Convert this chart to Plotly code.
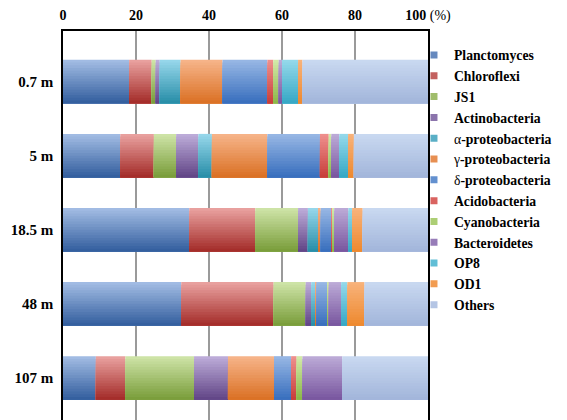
import plotly.graph_objects as go

# Sampling depths (rows) and relative abundances (%) of each bacterial group
depths = ["0.7 m", "5 m", "18.5 m", "48 m", "107 m"]

planctomyces = [18.1, 15.7, 34.6, 32.4, 9.0]
chloroflexi = [6.2, 9.2, 18.1, 25.3, 8.1]
js1 = [1.1, 6.1, 11.7, 8.8, 18.8]
actinobacteria = [1.1, 6.1, 2.7, 1.5, 9.3]
alpha_proteo = [5.7, 3.7, 3.0, 1.1, 0.0]
gamma_proteo = [11.5, 15.2, 0.5, 0.3, 12.6]
delta_proteo = [12.3, 14.4, 3.0, 3.0, 4.7]
acidobacteria = [1.6, 2.4, 0.3, 0.2, 1.5]
cyanobacteria = [1.5, 0.7, 0.4, 0.2, 1.6]
bacteroidetes = [0.9, 2.2, 3.9, 3.4, 10.9]
op8 = [4.4, 2.4, 1.0, 1.7, 0.0]
od1 = [1.2, 1.6, 2.9, 4.7, 0.0]
others = [34.4, 20.3, 17.9, 17.4, 23.5]

x_ticks = [0, 20, 40, 60, 80, 100]
x_tick_text = ["<b>0</b>", "<b>20</b>", "<b>40</b>", "<b>60</b>", "<b>80</b>", "<b>100</b> (%)"]

# (legend label, values, gradient top colour, gradient bottom colour)
series = [
    ("<b>Planctomyces</b>", planctomyces, "#A1BBE3", "#35609F"),
    ("<b>Chloroflexi</b>", chloroflexi, "#E8A09E", "#A52E2B"),
    ("<b>JS1</b>", js1, "#CDE3A6", "#7B9E3C"),
    ("<b>Actinobacteria</b>", actinobacteria, "#BCABD8", "#634788"),
    ("α<b>-proteobacteria</b>", alpha_proteo, "#95D6EA", "#2A8FA9"),
    ("γ<b>-proteobacteria</b>", gamma_proteo, "#F6B388", "#DB7226"),
    ("δ<b>-proteobacteria</b>", delta_proteo, "#96B6E4", "#3A70BE"),
    ("<b>Acidobacteria</b>", acidobacteria, "#EE8E8C", "#C8403C"),
    ("<b>Cyanobacteria</b>", cyanobacteria, "#D2E9A8", "#8DB84A"),
    ("<b>Bacteroidetes</b>", bacteroidetes, "#BBA9D6", "#7A58A0"),
    ("<b>OP8</b>", op8, "#93D8EA", "#38A9C6"),
    ("<b>OD1</b>", od1, "#F8B27A", "#EE8A30"),
    ("<b>Others</b>", others, "#C8D8F0", "#A3B6DB"),
]


def hex_to_rgb(h):
    h = h.lstrip("#")
    return tuple(int(h[i:i + 2], 16) for i in (0, 2, 4))


def blend(c1, c2, t):
    a, b = hex_to_rgb(c1), hex_to_rgb(c2)
    r, g, bl = (round(a[i] + (b[i] - a[i]) * t) for i in range(3))
    return f"rgb({r},{g},{bl})"


BAR_WIDTH = 0.587
N_STRIPS = 16
strip = BAR_WIDTH / N_STRIPS

fig = go.Figure()

# Stacked segments, shaded light (top) to dark (bottom): each layer starts a
# little lower and runs to the bottom edge, covering the layer before it.
cumulative = [0.0] * len(depths)
for name, values, top, bottom in series:
    bases = list(cumulative)
    for k in range(N_STRIPS):
        t = k / (N_STRIPS - 1)
        fig.add_trace(go.Bar(
            orientation="h",
            y=depths,
            x=values,
            base=bases,
            offset=-BAR_WIDTH / 2 + k * strip,
            width=BAR_WIDTH - k * strip,
            marker=dict(color=blend(top, bottom, t), line=dict(width=0)),
            showlegend=False,
            hoverinfo="skip",
        ))
    cumulative = [c + v for c, v in zip(cumulative, values)]

# Legend entries with small square keys
for name, values, top, bottom in series:
    fig.add_trace(go.Scatter(
        x=[None], y=[None], mode="markers", name=name,
        marker=dict(symbol="square", size=7, color=blend(top, bottom, 0.55)),
    ))

serif = "Liberation Serif, Times New Roman, serif"

fig.update_layout(
    width=567,
    height=420,
    margin=dict(l=63, r=139, t=31, b=0, autoexpand=False),
    paper_bgcolor="white",
    plot_bgcolor="white",
    barmode="overlay",
    font=dict(family=serif, color="black"),
    legend=dict(
        x=0.9616, xanchor="left",
        y=0.978, yanchor="top",
        font=dict(family=serif, size=13.7, color="black"),
        bgcolor="rgba(0,0,0,0)",
        borderwidth=0,
        itemsizing="trace",
        traceorder="normal",
    ),
    xaxis=dict(
        side="top",
        range=[0, 100],
        tickvals=x_ticks,
        ticktext=x_tick_text,
        tickfont=dict(family=serif, size=14, color="black"),
        ticks="",
        ticklabelstandoff=4,
        showgrid=True,
        gridcolor="#9A9A9A",
        gridwidth=1.5,
        zeroline=False,
        showline=True,
        linecolor="black",
        linewidth=1.5,
        mirror=False,
        fixedrange=True,
    ),
    yaxis=dict(
        type="category",
        categoryorder="array",
        categoryarray=depths,
        range=[4.568, -0.682],
        tickfont=dict(family=serif, size=15, color="black", weight="bold"),
        ticks="",
        ticklabelstandoff=5,
        showgrid=False,
        zeroline=False,
        showline=True,
        linecolor="black",
        linewidth=1.5,
        mirror=True,
        fixedrange=True,
    ),
)

fig.write_html("out.html")
